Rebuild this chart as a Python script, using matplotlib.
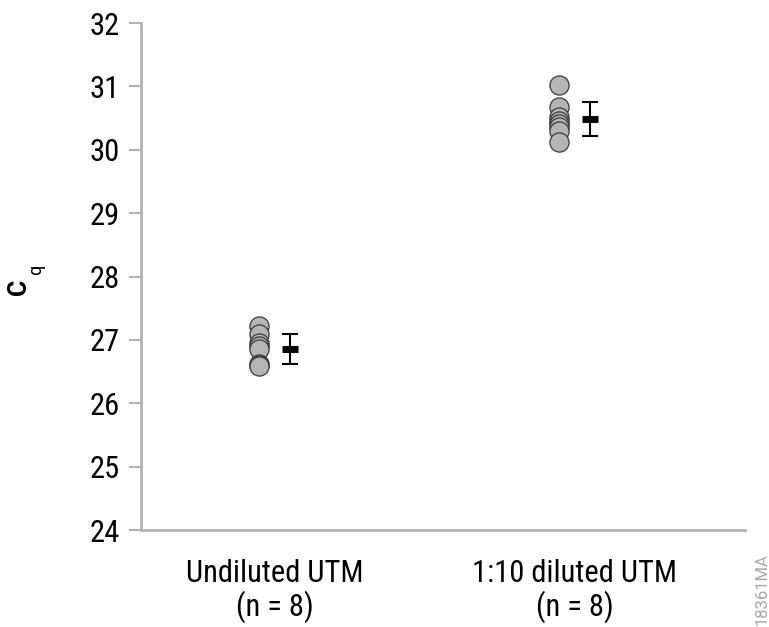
import numpy as np
import matplotlib.pyplot as plt
from matplotlib import font_manager

# Prefer a narrow sans face when one is installed
installed = {f.name for f in font_manager.fontManager.ttflist}
narrow = next((n for n in ['Roboto Condensed', 'Liberation Sans Narrow', 'DejaVu Sans Condensed']
               if n in installed), 'Roboto')
plt.rcParams['font.family'] = [narrow, 'DejaVu Sans']

# Cq values per sample group (8 replicates each)
groups = ['Undiluted UTM\n(n = 8)', '1:10 diluted UTM\n(n = 8)']
undiluted = [27.22, 27.10, 26.95, 26.90, 26.85, 26.62, 26.60, 26.58]
diluted = [31.02, 30.68, 30.52, 30.45, 30.40, 30.36, 30.30, 30.12]
yticks = [24, 25, 26, 27, 28, 29, 30, 31, 32]

fig = plt.figure(figsize=(7.69, 6.27), dpi=100)
ax = fig.add_axes([0.1834, 0.1547, 0.7854, 0.8086])

for i, vals in enumerate([undiluted, diluted]):
    vals = np.array(vals)
    ax.scatter(np.full(len(vals), i - 0.053), vals, s=190, color='#b5b5b5',
               edgecolor='#3a3a3a', linewidth=0.9, zorder=3)
    mean = vals.mean()
    sd = vals.std(ddof=1)
    ax.errorbar(i + 0.05, mean, yerr=sd, fmt='none', ecolor='black',
                elinewidth=1.5, capsize=6, capthick=1.5, zorder=3)
    ax.plot(i + 0.05, mean, marker='_', markersize=12, markeredgewidth=5,
            color='black', zorder=4)

ax.set_xlim(-0.447, 1.567)
ax.set_ylim(24, 32)
ax.set_yticks(yticks)
ax.set_xticks([0, 1])
ax.set_xticklabels(groups, fontsize=22, linespacing=1.1)
ax.tick_params(axis='y', labelsize=22, length=9, width=1.5, color='#b3b3b3', pad=6)
ax.tick_params(axis='x', length=0, pad=21)

for side in ['top', 'right']:
    ax.spines[side].set_visible(False)
for side in ['left', 'bottom']:
    ax.spines[side].set_color('#b3b3b3')
    ax.spines[side].set_linewidth(2)

# y-axis title: bold C with a subscript q
fig.text(0.0335, 0.543, 'C', rotation=90, rotation_mode='anchor', ha='center',
         va='baseline', fontsize=18, fontweight='bold', family='Roboto')
fig.text(0.0530, 0.570, 'q', rotation=90, rotation_mode='anchor', ha='center',
         va='baseline', fontsize=13, family='Roboto')

fig.text(0.991, 0.061, '18361MA', rotation=90, fontsize=12, color='#a8a8a8',
         ha='center', va='center', family='Roboto')

plt.savefig('out.png', dpi=100)
